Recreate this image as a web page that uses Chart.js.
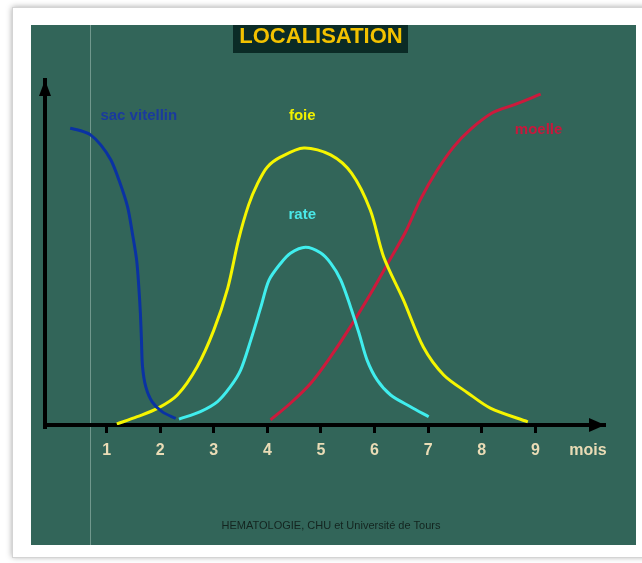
<!DOCTYPE html>
<html>
<head>
<meta charset="utf-8">
<script src="https://cdn.jsdelivr.net/npm/chart.js@4"></script>
<style>
  html, body { margin: 0; padding: 0; background: #fff; }
  #wrap { width: 642px; height: 563px; }
</style>
</head>
<body>
<div id="wrap"><canvas id="locChart" width="642" height="563"></canvas></div>
<script>
// months (x) and relative level (y, 0-100)
const monthTicks = [1, 2, 3, 4, 5, 6, 7, 8, 9];

const sacMonths = [0.32, 0.52, 0.70, 0.89, 1.08, 1.23, 1.39, 1.48, 1.56, 1.60, 1.63, 1.65, 1.67, 1.73, 1.85, 2.04, 2.29];
const sacLevel  = [86.0, 85.3, 84.1, 81.2, 76.8, 71.0, 63.3, 55.6, 47.8, 40.1, 32.4, 24.6, 16.9, 11.1, 6.7, 3.8, 1.9];

const foieMonths = [1.19, 1.57, 1.95, 2.32, 2.69, 3.00, 3.26, 3.46, 3.65, 3.82, 4.00, 4.25, 4.68, 5.18, 5.57, 5.92, 6.17, 6.54, 6.91, 7.29, 7.74, 8.16, 8.86];
const foieLevel  = [0.3, 2.4, 4.8, 8.7, 16.9, 27.5, 39.7, 53.6, 63.8, 70.1, 74.8, 77.7, 80.3, 78.3, 73.0, 62.3, 48.7, 36.2, 22.6, 14.5, 9.3, 4.9, 0.9];

const rateMonths = [2.35, 2.75, 3.07, 3.31, 3.50, 3.69, 3.88, 4.03, 4.25, 4.43, 4.71, 4.99, 5.18, 5.37, 5.55, 5.71, 5.86, 6.05, 6.30, 6.67, 7.01];
const rateLevel  = [1.7, 3.9, 6.8, 11.1, 15.9, 24.6, 34.3, 42.0, 46.9, 49.8, 51.5, 49.9, 46.9, 42.0, 34.3, 26.6, 18.8, 13.0, 8.7, 5.3, 2.4];

const moelleMonths = [4.06, 4.43, 4.81, 5.18, 5.55, 5.93, 6.30, 6.58, 6.86, 7.17, 7.48, 7.79, 8.20, 8.60, 9.10];
const moelleLevel  = [1.5, 6.3, 12.1, 19.8, 28.5, 38.2, 48.3, 56.0, 65.5, 73.9, 80.7, 85.7, 90.5, 92.8, 95.9];

const seriesNames = ['sac vitellin', 'foie', 'rate', 'moelle'];

const toPoints = (xs, ys) => xs.map((x, i) => ({ x: x, y: ys[i] }));

const makeSet = (label, xs, ys, color) => ({
    label: label,
    data: toPoints(xs, ys),
    showLine: true,
    borderColor: color,
    borderWidth: 3,
    pointRadius: 0,
    tension: 0.3,
    fill: false
});

const green = '#326559';

const backdrop = {
    id: 'backdrop',
    beforeDraw: (chart) => {
        const ctx = chart.ctx;
        ctx.save();
        ctx.fillStyle = '#fff';
        ctx.fillRect(0, 0, chart.width, chart.height);
        // card with soft shadow
        ctx.shadowColor = 'rgba(0,0,0,0.35)';
        ctx.shadowBlur = 6;
        ctx.fillStyle = '#fff';
        ctx.fillRect(12, 7, 640, 550);
        ctx.shadowBlur = 0;
        ctx.strokeStyle = '#d4d4d4';
        ctx.lineWidth = 1;
        ctx.strokeRect(12.5, 7.5, 640, 550);
        // green board
        ctx.fillStyle = green;
        ctx.fillRect(31, 25, 605, 520);
        ctx.strokeStyle = 'rgba(190,215,205,0.45)';
        ctx.beginPath();
        ctx.moveTo(90.5, 25);
        ctx.lineTo(90.5, 545);
        ctx.stroke();
        // title
        ctx.fillStyle = '#0b2b26';
        ctx.fillRect(233, 25, 175, 28);
        ctx.fillStyle = '#f3c200';
        ctx.font = 'bold 22px "Liberation Sans", Arial, sans-serif';
        ctx.textAlign = 'center';
        ctx.textBaseline = 'alphabetic';
        ctx.fillText('LOCALISATION', 321, 43);
        ctx.restore();
    },
    afterDraw: (chart) => {
        const ctx = chart.ctx;
        const xs = chart.scales.x, ys = chart.scales.y;
        const a = chart.chartArea;
        ctx.save();
        ctx.fillStyle = '#000';
        // arrow heads on axes
        ctx.beginPath();
        ctx.moveTo(a.left, a.top);
        ctx.lineTo(a.left - 6, a.top + 16);
        ctx.lineTo(a.left + 6, a.top + 16);
        ctx.closePath();
        ctx.fill();
        ctx.beginPath();
        ctx.moveTo(a.right, a.bottom);
        ctx.lineTo(a.right - 16, a.bottom - 7);
        ctx.lineTo(a.right - 16, a.bottom + 7);
        ctx.closePath();
        ctx.fill();
        // y axis goes a little below the x axis
        ctx.fillRect(a.left - 2, a.bottom, 4, 4);

        // curve names
        const names = [
            [seriesNames[0], 1.60, 89.5, '#1a3a9e'],
            [seriesNames[1], 4.65, 89.5, '#f0f000'],
            [seriesNames[2], 4.65, 61.0, '#4ae8e8'],
            [seriesNames[3], 9.06, 85.5, '#c8183c']
        ];
        ctx.font = 'bold 15px "Liberation Sans", Arial, sans-serif';
        ctx.textAlign = 'center';
        ctx.textBaseline = 'middle';
        names.forEach(([t, mx, my, c]) => {
            ctx.fillStyle = c;
            ctx.fillText(t, xs.getPixelForValue(mx), ys.getPixelForValue(my));
        });

        ctx.fillStyle = '#eadcb6';
        ctx.font = 'bold 16px "Liberation Sans Narrow", "Liberation Sans", Arial, sans-serif';
        ctx.fillText('mois', 588, 451);

        ctx.fillStyle = '#13241f';
        ctx.font = '11px "Liberation Sans Narrow", "Liberation Sans", Arial, sans-serif';
        ctx.fillText('HEMATOLOGIE, CHU et Université de Tours', 331, 526);
        ctx.restore();
    }
};

const ctx = document.getElementById('locChart').getContext('2d');
const locChart = new Chart(ctx, {
    type: 'scatter',
    data: {
        datasets: [
            makeSet(seriesNames[0], sacMonths, sacLevel, '#0a32a3'),
            makeSet(seriesNames[1], foieMonths, foieLevel, '#f5f500'),
            makeSet(seriesNames[2], rateMonths, rateLevel, '#40eeee'),
            makeSet(seriesNames[3], moelleMonths, moelleLevel, '#cc1a3c')
        ]
    },
    options: {
        responsive: false,
        animation: false,
        layout: {
            padding: { left: 45, right: 37, top: 80, bottom: 108 }
        },
        scales: {
            x: {
                type: 'linear',
                min: -0.15,
                max: 10.3,
                afterFit: (s) => { s.height = 30; },
                afterBuildTicks: (s) => { s.ticks = monthTicks.map(v => ({ value: v })); },
                grid: {
                    drawOnChartArea: false,
                    drawTicks: true,
                    tickLength: 8,
                    tickWidth: 3,
                    tickColor: '#000'
                },
                border: { display: true, color: '#000', width: 4 },
                ticks: {
                    color: '#eadcb6',
                    padding: 8,
                    autoSkip: false,
                    maxRotation: 0,
                    font: { family: '"Liberation Sans Narrow", "Liberation Sans", Arial', size: 16, weight: 'bold' },
                    callback: (v) => String(v)
                }
            },
            y: {
                min: 0,
                max: 100,
                afterFit: (s) => { s.width = 0; },
                grid: { display: false },
                border: { display: true, color: '#000', width: 4 },
                ticks: { display: false }
            }
        },
        plugins: {
            legend: { display: false },
            tooltip: { enabled: false },
            title: { display: false }
        }
    },
    plugins: [backdrop]
});
</script>
</body>
</html>
